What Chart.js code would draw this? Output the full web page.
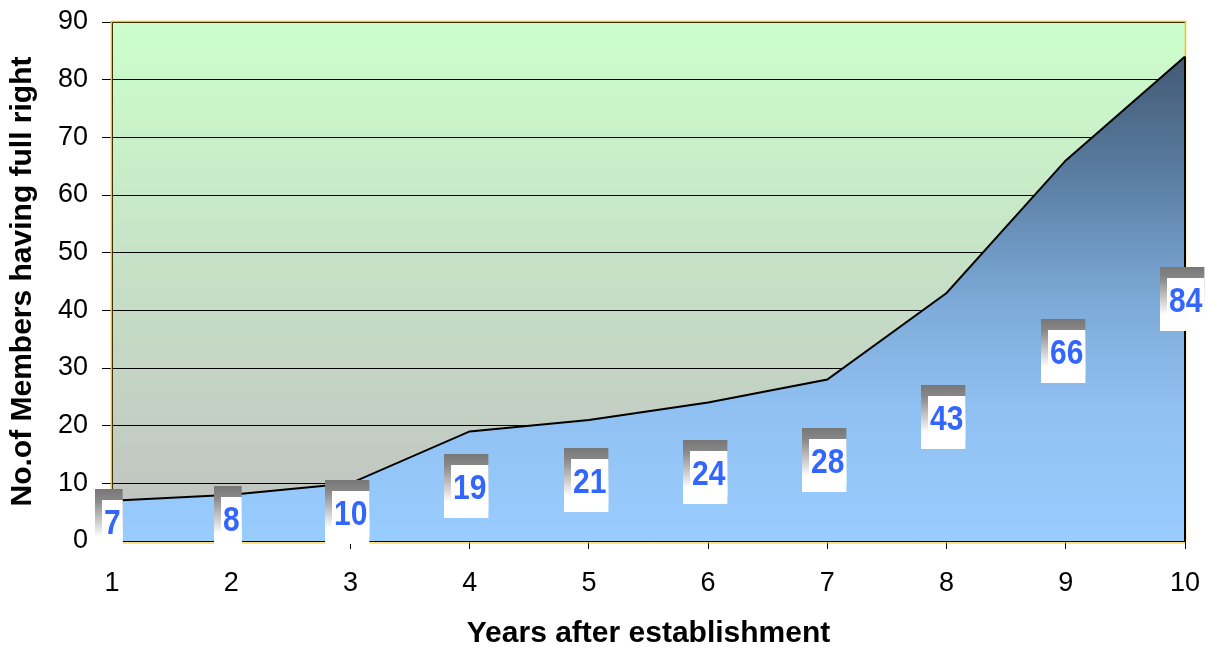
<!DOCTYPE html>
<html>
<head>
<meta charset="utf-8">
<script src="https://cdn.jsdelivr.net/npm/chart.js@4/dist/chart.umd.min.js"></script>
<style>
html,body{margin:0;padding:0;background:#fff;}
#wrap{width:1206px;height:649px;}
</style>
</head>
<body>
<div id="wrap"><canvas id="c" width="1206" height="649"></canvas></div>
<script>
const years = ['1','2','3','4','5','6','7','8','9','10'];
const members = [7, 8, 10, 19, 21, 24, 28, 43, 66, 84];
const yTickValues = [0, 10, 20, 30, 40, 50, 60, 70, 80, 90];
const xTitle = 'Years after establishment';
const yTitle = 'No.of Members having full right';

const FONT = '"Liberation Sans", Arial, Helvetica, sans-serif';

function areaGradient(context) {
  const chart = context.chart;
  const {ctx, chartArea, scales} = chart;
  if (!chartArea) return '#99ccff';
  const top = scales.y.getPixelForValue(Math.max(...members));
  const bottom = scales.y.getPixelForValue(0);
  const g = ctx.createLinearGradient(0, top, 0, bottom);
  g.addColorStop(0, '#435a74');
  g.addColorStop(0.25, '#5a7ea3');
  g.addColorStop(0.5, '#7ca9d7');
  g.addColorStop(0.72, '#90c0f1');
  g.addColorStop(1, '#99ccff');
  return g;
}

const bgPlugin = {
  id: 'bg',
  beforeDraw(chart) {
    const {ctx, chartArea: a} = chart;
    const g = ctx.createLinearGradient(0, a.top, 0, a.bottom);
    g.addColorStop(0, '#ccffcc');
    g.addColorStop(1, '#c0c0c0');
    ctx.save();
    ctx.fillStyle = g;
    ctx.fillRect(a.left, a.top, a.right - a.left, a.bottom - a.top);
    ctx.restore();
  }
};

const overlayPlugin = {
  id: 'overlay',
  afterDraw(chart) {
    const {ctx, chartArea: a, scales} = chart;
    const xs = scales.x, ys = scales.y;
    ctx.save();
    ctx.strokeStyle = '#ffc000';
    ctx.lineWidth = 1.5;
    ctx.beginPath();
    ctx.moveTo(a.left - 0.5, a.bottom);
    ctx.lineTo(a.left - 0.5, a.top - 0.5);
    ctx.lineTo(a.right + 0.5, a.top - 0.5);
    ctx.lineTo(a.right + 0.5, a.bottom);
    ctx.stroke();
    ctx.lineWidth = 1;
    ctx.beginPath();
    ctx.moveTo(a.left, a.bottom + 2);
    ctx.lineTo(a.right, a.bottom + 2);
    ctx.stroke();
    const last = members.length - 1;
    const xr = xs.getPixelForValue(last);
    ctx.strokeStyle = '#000';
    ctx.lineWidth = 2;
    ctx.beginPath();
    ctx.moveTo(xr, ys.getPixelForValue(members[last]));
    ctx.lineTo(xr, ys.getPixelForValue(0));
    ctx.stroke();

    ctx.font = 'bold 30px ' + FONT;
    members.forEach((v, i) => {
      const txt = String(v);
      const tw = ctx.measureText(txt).width;
      const w = tw + 11, h = 64;
      const cx = xs.getPixelForValue(i) - 3;
      const cy = ys.getPixelForValue(v / 2);
      const L = Math.round(cx - w / 2), T = Math.round(cy - h / 2);
      const g = ctx.createLinearGradient(0, T, 0, T + h);
      g.addColorStop(0, '#777777');
      g.addColorStop(0.18, '#888888');
      g.addColorStop(0.75, '#ffffff');
      g.addColorStop(1, '#ffffff');
      ctx.fillStyle = g;
      ctx.fillRect(L, T, w, h);
      ctx.fillStyle = '#ffffff';
      ctx.fillRect(L + 7, T + 11, w - 7, h - 18);
      ctx.save();
      ctx.translate(L + 7 + (w - 7) / 2, T + 11 + (h - 18) / 2);
      ctx.scale(1, 1.15);
      ctx.textAlign = 'center';
      ctx.textBaseline = 'middle';
      ctx.fillStyle = '#3366ff';
      ctx.fillText(txt, 0, 1);
      ctx.restore();
    });
    ctx.restore();
  }
};

new Chart(document.getElementById('c'), {
  type: 'line',
  data: {
    labels: years,
    datasets: [{
      data: members,
      borderColor: '#000000',
      borderWidth: 2,
      pointRadius: 0,
      tension: 0,
      fill: 'origin',
      backgroundColor: areaGradient
    }]
  },
  options: {
    responsive: false,
    animation: false,
    devicePixelRatio: 1,
    layout: {padding: {top: 22, right: 21, left: 0, bottom: 0}},
    plugins: {legend: {display: false}, tooltip: {enabled: false}},
    scales: {
      x: {
        offset: false,
        grid: {display: true, drawOnChartArea: false, drawTicks: true, tickLength: 8, color: '#000', lineWidth: 1},
        border: {color: '#000', width: 2},
        ticks: {color: '#000', font: {family: FONT, size: 27}, padding: 18, maxRotation: 0, autoSkip: false},
        title: {display: true, text: xTitle, color: '#000', font: {family: FONT, size: 30, weight: 'bold', lineHeight: 1}, padding: {top: 0, bottom: 0}},
        afterFit: s => { s.height = 108; s.paddingLeft = 0; s.paddingRight = 0; }
      },
      y: {
        min: 0, max: 90,
        afterBuildTicks: s => { s.ticks = yTickValues.map(v => ({value: v})); },
        grid: {color: '#000', lineWidth: 1, tickLength: 10},
        border: {color: '#000', width: 1},
        ticks: {color: '#000', font: {family: FONT, size: 27}, padding: 14},
        title: {display: true, text: yTitle, color: '#000', font: {family: FONT, size: 30, weight: 'bold', lineHeight: 1}, padding: {top: 8, bottom: 0}},
        afterFit: s => { s.width = 112; s.paddingTop = 0; s.paddingBottom = 0; }
      }
    }
  },
  plugins: [bgPlugin, overlayPlugin]
});
</script>
</body>
</html>
